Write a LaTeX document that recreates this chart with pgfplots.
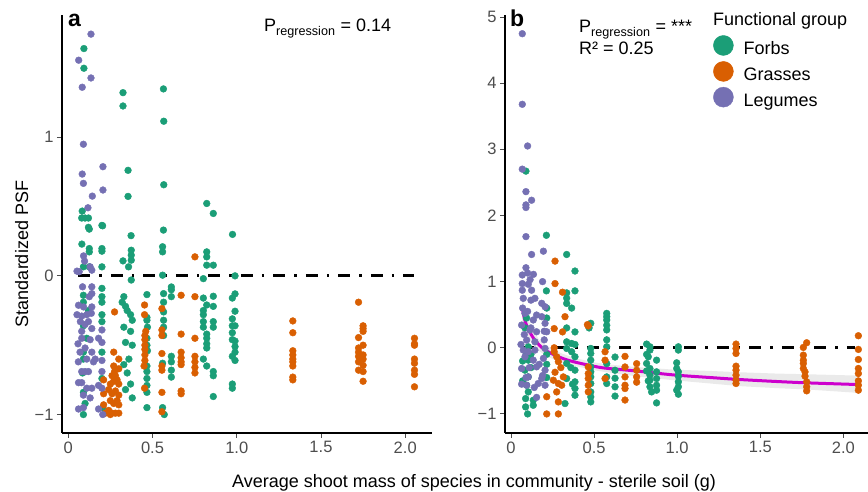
\documentclass[border=0pt]{standalone}
\usepackage{pgfplots}
\pgfplotsset{compat=1.18}
\usepackage{fontspec}
\setmainfont{Liberation Sans}

\definecolor{forb}{HTML}{1B9E77}
\definecolor{grass}{HTML}{D95F02}
\definecolor{legume}{HTML}{7570B3}
\definecolor{fitline}{HTML}{CD00CD}
\definecolor{tickgray}{HTML}{4D4D4D}
\definecolor{band}{HTML}{E3E3E3}

\pgfplotsset{
  psf/.style={
    scale only axis, height=418pt,
    axis x line*=bottom, axis y line*=left,
    axis line style={line width=1.6pt},
    tick align=outside, major tick length=5pt,
    tick style={color=tickgray, line width=0.9pt},
    ticklabel style={font=\fontsize{16.5}{16.5}\selectfont, text=tickgray},
    xtick={0,0.5,1,1.5,2}, xticklabels={0,0.5,1.0,1.5,2.0},
    xmin=-0.037, xmax=2.159,
  },
  pts/.style={only marks, mark=*, mark size=3.4pt, color=#1, mark options={draw=none, fill=#1}},
  zero/.style={black, line width=3pt, dash pattern=on 12pt off 9pt on 2.5pt off 9pt},
}

\begin{document}
\begin{tikzpicture}
\path[use as bounding box] (0pt,0pt) rectangle (868pt,492pt);

% ---------- panel a ----------
\begin{axis}[psf, width=370pt, at={(62pt,59pt)}, anchor=south west,
  ymin=-1.133, ymax=1.881,
  ytick={-1,0,1}, yticklabels={−1,0,1}]
\addplot[zero] coordinates {(0.06,0) (2.05,0)};
% forbs
\addplot[pts=forb] coordinates {
(0.093,1.639) (0.093,1.497) (0.083,0.467) (0.08,0.417) (0.1,0.417) (0.12,0.417) (0.12,0.35)
(0.081,0.229) (0.125,0.337) (0.125,0.197) (0.125,0.173) (0.09,0.065) (0.125,0.065)
(0.09,-0.14) (0.09,-0.19) (0.09,-0.36) (0.09,-0.55) (0.09,-0.6) (0.09,-0.84) (0.09,-1.0)
(0.12,-0.25) (0.11,-0.45) (0.085,-0.7) (0.1,-0.92)
(0.2,0.364) (0.204,0.361) (0.2,0.197) (0.2,0.178) (0.2,0.065) (0.2,-0.09) (0.2,-0.15)
(0.2,-0.19) (0.2,-0.28) (0.2,-0.33) (0.2,-0.55) (0.2,-0.74) (0.205,-0.95)
(0.325,1.321) (0.325,1.225) (0.355,0.761) (0.355,0.573) (0.373,0.29) (0.374,0.185)
(0.374,0.149) (0.374,0.113) (0.325,0.108) (0.358,0.065) (0.374,-0.03) (0.32,-0.19)
(0.33,-0.15) (0.34,-0.22) (0.35,-0.25) (0.37,-0.28) (0.38,-0.32) (0.33,-0.37) (0.34,-0.48)
(0.37,-0.4) (0.38,-0.5) (0.36,-0.6) (0.33,-0.64) (0.35,-0.7) (0.37,-0.78) (0.38,-0.88) (0.34,-0.82)
(0.467,-0.135) (0.467,-0.3) (0.467,-0.32) (0.47,-0.37) (0.467,-0.45) (0.467,-0.5) (0.47,-0.54)
(0.467,-0.65) (0.467,-0.69) (0.467,-0.74) (0.467,-0.79) (0.467,-0.84) (0.467,-0.95)
(0.565,1.348) (0.567,1.115) (0.567,0.657) (0.565,0.33) (0.56,0.21) (0.56,0.173) (0.56,0.005)
(0.566,-0.128) (0.566,-0.19) (0.566,-0.26) (0.566,-0.32) (0.566,-0.37) (0.566,-0.43)
(0.56,-0.63) (0.56,-0.95) (0.57,-1.0)
(0.612,-0.08) (0.612,-0.1) (0.612,-0.15) (0.612,-0.58) (0.612,-0.62) (0.612,-0.68) (0.612,-0.73)
(0.822,0.522) (0.861,0.45) (0.822,0.173) (0.822,0.137) (0.822,0.077) (0.861,0.077) (0.802,-0.02)
(0.802,-0.16) (0.861,-0.147) (0.822,-0.21) (0.861,-0.22) (0.802,-0.25) (0.802,-0.28) (0.802,-0.33)
(0.802,-0.37) (0.861,-0.33) (0.861,-0.37) (0.822,-0.42) (0.822,-0.45) (0.822,-0.49) (0.822,-0.52)
(0.802,-0.6) (0.822,-0.65) (0.861,-0.69) (0.861,-0.72) (0.861,-0.87)
(0.975,0.299) (0.99,0.0) (0.99,-0.13) (0.974,-0.16) (0.99,-0.255) (0.974,-0.31) (0.974,-0.36)
(0.99,-0.36) (0.974,-0.41) (0.974,-0.46) (0.99,-0.47) (0.99,-0.51) (0.99,-0.55) (0.974,-0.58)
(0.99,-0.61) (0.974,-0.78) (0.974,-0.81)
};
% grasses
\addplot[pts=grass] coordinates {
(0.275,-0.26) (0.21,-0.75) (0.21,-0.85) (0.21,-0.93) (0.27,-0.65) (0.275,-0.69) (0.26,-0.72)
(0.28,-0.72) (0.25,-0.78) (0.27,-0.76) (0.29,-0.75) (0.3,-0.78) (0.24,-0.82) (0.26,-0.85)
(0.28,-0.83) (0.3,-0.86) (0.25,-0.9) (0.27,-0.92) (0.29,-0.9) (0.24,-0.97) (0.26,-0.99)
(0.28,-0.99) (0.3,-0.99) (0.3,-0.93) (0.25,-1.0) (0.22,-0.99) (0.27,-0.55) (0.3,-0.6) (0.3,-0.67)
(0.453,-0.21) (0.453,-0.28) (0.455,-0.43) (0.455,-0.46) (0.455,-0.5) (0.455,-0.53) (0.455,-0.57)
(0.455,-0.61) (0.453,-0.81) (0.46,-0.40) (0.45,-0.65)
(0.556,-0.236) (0.556,-0.39) (0.556,-0.43) (0.556,-0.56) (0.556,-0.65) (0.556,-0.68) (0.556,-0.84) (0.556,-0.98)
(0.67,-0.14) (0.67,-0.42) (0.67,-0.55) (0.67,-0.59) (0.67,-0.62) (0.67,-0.64) (0.67,-0.85) (0.67,-0.83)
(0.752,0.137) (0.752,-0.15) (0.752,-0.45) (0.752,-0.58) (0.752,-0.62) (0.752,-0.66) (0.752,-0.7)
(1.333,-0.325) (1.333,-0.41) (1.333,-0.54) (1.333,-0.57) (1.333,-0.6) (1.333,-0.62) (1.333,-0.65)
(1.333,-0.73) (1.333,-0.75)
(1.723,-0.19) (1.75,-0.36) (1.75,-0.38) (1.75,-0.4) (1.723,-0.445) (1.75,-0.5) (1.723,-0.52)
(1.723,-0.55) (1.75,-0.57) (1.723,-0.58) (1.75,-0.6) (1.723,-0.62) (1.75,-0.645) (1.723,-0.68)
(1.75,-0.69) (1.75,-0.76)
(2.055,-0.45) (2.055,-0.49) (2.055,-0.5) (2.055,-0.6) (2.055,-0.63) (2.055,-0.68) (2.055,-0.71) (2.055,-0.8)
};
% legumes
\addplot[pts=legume] coordinates {
(0.135,1.743) (0.062,1.555) (0.135,1.427) (0.083,1.36) (0.09,0.949) (0.206,0.787) (0.083,0.734)
(0.09,0.667) (0.206,0.619) (0.143,0.575) (0.117,0.491) (0.091,0.144) (0.097,0.106) (0.13,0.065)
(0.14,0.041) (0.052,0.034) (0.065,0.03)
(0.085,-0.079) (0.14,-0.079) (0.14,-0.128) (0.061,-0.212) (0.091,-0.224) (0.14,-0.224) (0.052,-0.28)
(0.08,-0.29) (0.11,-0.28) (0.137,-0.27) (0.072,-0.33) (0.12,-0.33) (0.08,-0.4) (0.14,-0.38)
(0.08,-0.45) (0.13,-0.46) (0.058,-0.49) (0.1,-0.52) (0.14,-0.55) (0.2,-0.48) (0.2,-0.39) (0.18,-0.45)
(0.16,-0.6) (0.2,-0.61) (0.08,-0.69) (0.1,-0.69) (0.12,-0.69) (0.15,-0.62) (0.2,-0.69) (0.061,-0.77)
(0.08,-0.77) (0.11,-0.81) (0.14,-0.81) (0.18,-0.79) (0.2,-0.81) (0.061,-0.96) (0.09,-0.95) (0.18,-0.96)
(0.205,-1.0) (0.11,-0.6) (0.06,-0.62) (0.125,-0.15) (0.1,-0.35) (0.07,-0.55) (0.13,-0.88) (0.09,-0.86)
};
\end{axis}

% ---------- panel b ----------
\begin{axis}[psf, width=363pt, at={(505pt,59pt)}, anchor=south west,
  xmin=-0.036, xmax=2.148, ymin=-1.288, ymax=5.03,
  ytick={-1,0,...,5}, yticklabels={−1,0,1,2,3,4,5},
  legend style={at={(rel axis cs:0.573,0.952)}, anchor=north west, draw=none, fill=none,
    font=\fontsize{18}{18}\selectfont, legend cell align=left, inner sep=0pt,
    row sep=5pt, column sep=10pt, nodes={inner sep=0pt}},
  legend image code/.code={\fill[#1] (10pt,0.35em) circle (10pt);}]
\addlegendimage{forb}\addlegendentry{Forbs}
\addlegendimage{grass}\addlegendentry{Grasses}
\addlegendimage{legume}\addlegendentry{Legumes}
\addplot[zero, forget plot] coordinates {(0.065,0) (2.07,0)};
% forbs
\addplot[pts=forb, forget plot] coordinates {
(0.09,2.67) (0.213,1.70) (0.335,1.41) (0.385,1.16) (0.213,0.86) (0.385,0.86) (0.335,0.83)
(0.104,0.015) (0.094,-0.086) (0.104,-0.187) (0.084,-0.338) (0.104,-0.44) (0.094,-0.566)
(0.104,-0.667) (0.088,-0.768) (0.134,-0.793) (0.088,-0.894) (0.134,-0.869) (0.1,-1.0)
(0.084,0.3) (0.094,0.45) (0.07,-0.2) (0.07,-0.5) (0.12,-0.3) (0.12,-0.1)
(0.215,0.6) (0.215,0.45) (0.215,-0.1) (0.215,-0.25) (0.215,-0.45)
(0.335,0.75) (0.335,0.67) (0.365,0.6) (0.385,0.24) (0.335,0.09) (0.365,0.065) (0.335,-0.01)
(0.365,-0.06) (0.385,-0.136) (0.335,-0.237) (0.385,-0.338) (0.335,-0.465) (0.385,-0.515)
(0.385,-0.616) (0.385,-0.717) (0.325,-0.843) (0.36,-0.3) (0.37,-0.55) (0.335,0.3) (0.385,0.05)
(0.48,0.37) (0.48,-0.01) (0.48,-0.086) (0.48,-0.187) (0.48,-0.288) (0.48,-0.363) (0.48,-0.44)
(0.48,-0.54) (0.48,-0.667) (0.48,-0.742) (0.48,-0.818) (0.47,0.3)
(0.576,0.52) (0.576,0.47) (0.576,0.42) (0.576,0.34) (0.576,0.27) (0.576,0.12) (0.576,0.015)
(0.576,-0.24) (0.576,-0.44) (0.576,-0.54)
(0.626,-0.14) (0.626,-0.34) (0.626,-0.46) (0.626,-0.59) (0.626,-0.73)
(0.816,0.056) (0.836,0.015) (0.836,-0.035) (0.826,-0.136) (0.816,-0.237) (0.836,-0.313)
(0.836,-0.414) (0.836,-0.49) (0.836,-0.59) (0.846,-0.667) (0.876,-0.187) (0.876,-0.364)
(0.876,-0.465) (0.876,-0.566) (0.876,-0.641) (0.876,-0.833) (0.816,-0.1) (0.826,-0.5) (0.816,-0.35)
(1.007,0.015) (1.007,-0.035) (0.997,-0.227) (0.997,-0.313) (1.007,-0.364) (1.007,-0.43)
(1.007,-0.515) (1.007,-0.59) (0.997,-0.641) (1.007,-0.702)
};
% grasses
\addplot[pts=grass, forget plot] coordinates {
(0.265,1.31) (0.265,0.97) (0.31,0.84)
(0.26,0.29) (0.325,0.47) (0.31,0.24) (0.26,-0.06) (0.275,-0.136) (0.285,-0.21) (0.255,-0.49)
(0.285,-0.54) (0.305,-0.566) (0.275,-0.667) (0.215,-0.74) (0.285,-0.818) (0.285,-1.0) (0.215,-1.0)
(0.315,-0.44) (0.265,-0.37) (0.26,0.0) (0.3,-0.3)
(0.465,0.33) (0.465,-0.29) (0.465,-0.39) (0.465,-0.465) (0.465,-0.566) (0.465,-0.667) (0.46,0.35)
(0.566,-0.06) (0.566,-0.187) (0.566,-0.465)
(0.686,-0.13) (0.686,-0.29) (0.686,-0.44) (0.686,-0.566) (0.686,-0.616) (0.686,-0.79)
(0.756,-0.24) (0.756,-0.34) (0.756,-0.44) (0.756,-0.52)
(1.354,0.056) (1.354,-0.01) (1.354,-0.086) (1.354,-0.278) (1.354,-0.338) (1.354,-0.414)
(1.354,-0.49) (1.354,-0.54)
(1.779,0.076) (1.759,0.005) (1.759,-0.111) (1.759,-0.187) (1.759,-0.237) (1.759,-0.313)
(1.769,-0.364) (1.769,-0.429) (1.779,-0.515) (1.779,-0.59) (1.779,-0.651)
(2.09,0.182) (2.09,-0.025) (2.09,-0.177) (2.09,-0.313) (2.09,-0.389) (2.09,-0.5) (2.09,-0.566) (2.09,-0.641)
};
% legumes
\addplot[pts=legume, forget plot] coordinates {
(0.068,4.747) (0.068,3.68) (0.1,3.05) (0.068,2.70) (0.09,2.36) (0.124,2.23) (0.09,2.16) (0.09,2.12)
(0.09,1.68) (0.124,1.41) (0.195,1.46) (0.09,1.21) (0.068,1.1) (0.135,1.11) (0.115,1.03)
(0.068,0.97) (0.104,0.96) (0.068,0.87) (0.124,0.87)
(0.074,0.747) (0.144,0.747) (0.185,0.672) (0.205,0.62) (0.084,0.52) (0.154,0.495) (0.134,0.42)
(0.064,0.343) (0.205,0.37) (0.185,0.47) (0.114,0.268) (0.154,0.242) (0.215,0.242) (0.094,0.116)
(0.144,0.09) (0.074,-0.035) (0.104,-0.06) (0.144,-0.035) (0.205,-0.01) (0.084,-0.136)
(0.134,-0.187) (0.195,-0.16) (0.064,-0.313) (0.154,-0.288) (0.205,-0.338) (0.104,-0.44)
(0.185,-0.465) (0.064,-0.55) (0.094,-0.566) (0.164,-0.54) (0.205,-0.566) (0.154,-0.75)
(0.07,0.6) (0.1,0.55) (0.12,0.3) (0.08,0.2) (0.2,0.25) (0.17,-0.25) (0.11,-0.3) (0.09,-0.45)
(0.19,-0.42) (0.06,0.05) (0.2,0.12) (0.14,-0.6) (0.12,0.72) (0.19,1.0) (0.1,1.13)
};
% confidence band (upper edge, then lower edge back) and fitted curve
\addplot[fill=band, fill opacity=0.75, draw=none, forget plot] coordinates {
(0.068,0.80) (0.08,0.62) (0.1,0.45) (0.12,0.33) (0.134,0.26) (0.17,0.12) (0.215,0.03) (0.3,-0.08)
(0.375,-0.15) (0.5,-0.22) (0.576,-0.25) (0.75,-0.29) (0.977,-0.33) (1.2,-0.35) (1.378,-0.37)
(1.6,-0.39) (1.78,-0.40) (2.08,-0.42)
(2.08,-0.68) (1.78,-0.63) (1.6,-0.61) (1.378,-0.58) (1.2,-0.54) (0.977,-0.49) (0.75,-0.43)
(0.576,-0.37) (0.5,-0.34) (0.375,-0.27) (0.3,-0.22) (0.215,-0.13) (0.17,-0.05) (0.134,0.05)
(0.12,0.09) (0.1,0.17) (0.08,0.28) (0.068,0.40)} -- cycle;
\addplot[fitline, line width=3pt, smooth, forget plot] coordinates {
(0.068,0.60) (0.08,0.45) (0.1,0.30) (0.134,0.15) (0.17,0.04) (0.215,-0.05) (0.3,-0.15)
(0.375,-0.21) (0.5,-0.28) (0.576,-0.31) (0.75,-0.35) (0.977,-0.41) (1.2,-0.45) (1.378,-0.48)
(1.6,-0.51) (1.78,-0.53) (2.08,-0.555)};
\end{axis}

% labels
\node[anchor=base west, font=\fontsize{23}{23}\selectfont\bfseries, inner sep=0pt] at (68pt,465pt) {a};
\node[anchor=base west, font=\fontsize{23}{23}\selectfont\bfseries, inner sep=0pt] at (510pt,465pt) {b};
\node[anchor=base west, font=\fontsize{18}{18}\selectfont, inner sep=0pt] at (264pt,460pt) {P\textsubscript{regression} = 0.14};
\node[anchor=base west, font=\fontsize{18}{18}\selectfont, inner sep=0pt] at (579pt,459pt) {P\textsubscript{regression} = ***};
\node[anchor=base west, font=\fontsize{18}{18}\selectfont, inner sep=0pt] at (579pt,437pt) {R² = 0.25};
\node[anchor=base west, font=\fontsize{18}{18}\selectfont, inner sep=0pt] at (713pt,466pt) {Functional group};
\node[anchor=base, font=\fontsize{18}{18}\selectfont, inner sep=0pt] at (474pt,4pt) {Average shoot mass of species in community - sterile soil (g)};
\node[anchor=base, rotate=90, font=\fontsize{18}{18}\selectfont, inner sep=0pt] at (28pt,238pt) {Standardized PSF};
\end{tikzpicture}
\end{document}
